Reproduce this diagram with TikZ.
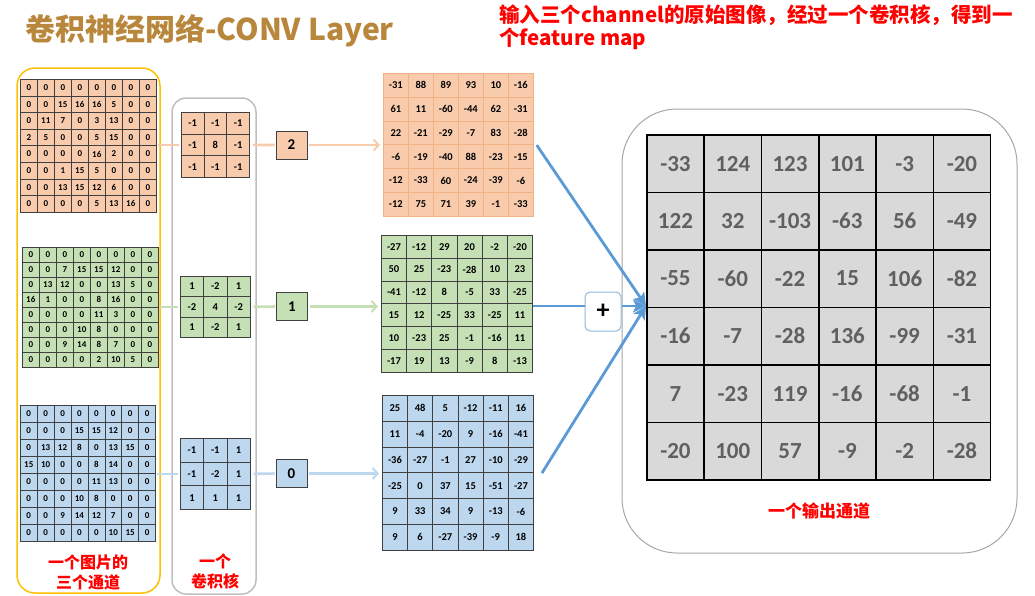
\documentclass[tikz,border=0pt]{standalone}
\usepackage{fontspec}
\setmainfont{Carlito}
\newfontfamily\cjk{Noto Sans CJK SC}
\usetikzlibrary{arrows.meta}
\definecolor{ofill}{HTML}{F8CBAD}
\definecolor{gfill}{HTML}{C5E0B4}
\definecolor{bfill}{HTML}{BDD7EE}
\definecolor{oline}{HTML}{F4B183}
\definecolor{gridline}{HTML}{404040}
\definecolor{arrowblue}{HTML}{5B9BD5}
\definecolor{titlecol}{RGB}{185,135,60}
\definecolor{outtext}{HTML}{606060}
\definecolor{outfill}{HTML}{D9D9D9}
\definecolor{yellowbox}{HTML}{FFC000}
\definecolor{greybox}{HTML}{BFBFBF}
\definecolor{outbox}{HTML}{A6A6A6}
\newcommand\mygrid[7]{%
  \foreach \row [count=\i] in {#7} {
    \foreach \v [count=\j] in \row {
      \node[#6, minimum width=#4, minimum height=#5, anchor=north west]
        (#1-\i-\j) at ({#2+(\j-1)*#4},{#3+(\i-1)*#5}) {\v};
    }
  }
}
\tikzset{
  incell/.style={draw=gridline, fill=#1, line width=0.6pt, inner sep=0pt,
    font=\fontsize{9}{9}\selectfont\bfseries},
  kcell/.style={draw=gridline, fill=#1, line width=0.7pt, inner sep=0pt,
    font=\fontsize{10.5}{11}\selectfont\bfseries},
  fcell/.style 2 args={draw=#2, fill=#1, line width=0.7pt, inner sep=0pt,
    font=\fontsize{10.5}{11}\selectfont\bfseries},
  ocell/.style={draw=black, fill=outfill, line width=1.6pt, inner sep=0pt,
    text=outtext, font=\fontsize{23}{24}\selectfont\bfseries},
  biasbox/.style={draw=gridline, fill=#1, line width=0.9pt, minimum width=31pt,
    minimum height=28pt, inner sep=0pt, font=\fontsize{15}{16}\selectfont\bfseries},
  conn/.style={draw=#1, line width=2.6pt},
  connarr/.style={draw=#1, line width=2.6pt, -{Straight Barb[length=5pt,width=11pt,line width=2pt]}},
  bluearr/.style={draw=arrowblue, line width=2.8pt, -{Stealth[length=13pt,width=13pt,inset=3pt]}},
  blueline/.style={draw=arrowblue, line width=2.8pt},
  lbl/.style={text=red, align=center, inner sep=0pt,
    font=\cjk\bfseries\fontsize{16}{20}\selectfont},
}
\begin{document}
\begin{tikzpicture}[x=1pt,y=-1pt]
\useasboundingbox (0,0) rectangle (1035,595);
% title texts
\node[anchor=west, inner sep=0pt, text=titlecol, font=\cjk\bfseries\fontsize{30}{36}\selectfont] (title) at (25,31) {卷积神经网络-CONV Layer};
\node[anchor=north west, inner sep=0pt, text=red, align=left, font=\cjk\bfseries\fontsize{20.5}{22.5}\selectfont] (note) at (499,5) {输入三个channel的原始图像，经过一个卷积核，得到一\\个feature map};
% outer boxes
\draw[yellowbox, line width=1.5pt, rounded corners=18pt] (17,68) rectangle (160,593);
\draw[greybox, line width=1.5pt, rounded corners=14pt] (172,98) rectangle (256,594);
\draw[outbox, line width=1pt, rounded corners=55pt] (622,109) rectangle (1017,553);
% input grids
\mygrid{io}{20}{79}{17}{16.6}{incell=ofill}{{0,0,0,0,0,0,0,0},{0,0,15,16,16,5,0,0},{0,11,7,0,3,13,0,0},{2,5,0,0,5,15,0,0},{0,0,0,0,16,2,0,0},{0,0,1,15,5,0,0,0},{0,0,13,15,12,6,0,0},{0,0,0,0,5,13,16,0}}
\mygrid{ig}{22}{247}{17}{15}{incell=gfill}{{0,0,0,0,0,0,0,0},{0,0,7,15,15,12,0,0},{0,13,12,0,0,13,5,0},{16,1,0,0,8,16,0,0},{0,0,0,0,11,3,0,0},{0,0,0,10,8,0,0,0},{0,0,9,14,8,7,0,0},{0,0,0,0,2,10,5,0}}
\mygrid{ib}{20}{405}{16.9}{17}{incell=bfill}{{0,0,0,0,0,0,0,0},{0,0,0,15,15,12,0,0},{0,13,12,8,0,13,15,0},{15,10,0,0,8,14,0,0},{0,0,0,0,11,13,0,0},{0,0,0,10,8,0,0,0},{0,0,9,14,12,7,0,0},{0,0,0,0,0,10,15,0}}
% kernels
\mygrid{ko}{181}{112}{22.7}{21.7}{kcell=ofill}{{-1,-1,-1},{-1,8,-1},{-1,-1,-1}}
\mygrid{kg}{180}{276}{23.3}{20.3}{kcell=gfill}{{1,-2,1},{-2,4,-2},{1,-2,1}}
\mygrid{kb}{180}{438}{23.3}{23.7}{kcell=bfill}{{-1,-1,1},{-1,-2,1},{1,1,1}}
% bias boxes
\node[biasbox=ofill] (bo) at (291.5,145) {2};
\node[biasbox=gfill] (bg) at (292,306.5) {1};
\node[biasbox=bfill] (bb) at (291.5,473.5) {0};
% feature maps
\mygrid{fo}{383}{73}{25}{23.8}{fcell={ofill}{oline}}{{-31,88,89,93,10,-16},{61,11,-60,-44,62,-31},{22,-21,-29,-7,83,-28},{-6,-19,-40,88,-23,-15},{-12,-33,60,-24,-39,-6},{-12,75,71,39,-1,-33}}
\mygrid{fg}{381}{235}{25.2}{22.8}{fcell={gfill}{gridline}}{{-27,-12,29,20,-2,-20},{50,25,-23,-28,10,23},{-41,-12,8,-5,33,-25},{15,12,-25,33,-25,11},{10,-23,25,-1,-16,11},{-17,19,13,-9,8,-13}}
\mygrid{fb}{382}{395}{25.2}{25.8}{fcell={bfill}{gridline}}{{25,48,5,-12,-11,16},{11,-4,-20,9,-16,-41},{-36,-27,-1,27,-10,-29},{-25,0,37,15,-51,-27},{9,33,34,9,-13,-6},{9,6,-27,-39,-9,18}}
% output grid
\mygrid{out}{646}{134}{57.3}{57.5}{ocell}{{-33,124,123,101,-3,-20},{122,32,-103,-63,56,-49},{-55,-60,-22,15,106,-82},{-16,-7,-28,136,-99,-31},{7,-23,119,-16,-68,-1},{-20,100,57,-9,-2,-28}}
% connectors input -> kernel -> bias -> feature map
\draw[conn=ofill, shorten <=1pt, shorten >=2pt] (io-1-8.east |- ko-2-1.west) -- (ko-2-1.west);
\draw[conn=gfill, shorten <=1pt, shorten >=2pt] (ig-1-8.east |- kg-2-1.west) -- (kg-2-1.west);
\draw[conn=bfill, shorten <=1pt, shorten >=2pt] (ib-1-8.east |- kb-2-1.west) -- (kb-2-1.west);
\draw[conn=ofill, shorten <=3pt, shorten >=1pt] (ko-2-3.east) -- (bo.west);
\draw[conn=gfill, shorten <=3pt, shorten >=1pt] (kg-2-3.east) -- (bg.west);
\draw[conn=bfill, shorten <=3pt, shorten >=1pt] (kb-2-3.east) -- (bb.west);
\draw[connarr=ofill, shorten <=2pt, shorten >=3pt] (bo.east) -- (bo.east -| fo-1-1.west);
\draw[connarr=gfill, shorten <=2pt, shorten >=3pt] (bg.east) -- (bg.east -| fg-1-1.west);
\draw[connarr=bfill, shorten <=2pt, shorten >=3pt] (bb.east) -- (bb.east -| fb-1-1.west);
% plus and summation arrows
\node[draw=arrowblue!70, fill=white, line width=1pt, rounded corners=5pt, minimum width=36pt, minimum height=39pt, inner sep=0pt, font=\fontsize{26}{26}\selectfont\bfseries] (plus) at (603,311.5) {+};
\coordinate (tip) at (646,306);
\draw[bluearr] ([xshift=3pt]fo-3-6.south east) -- (tip);
\draw[bluearr] ([xshift=8pt]fb-3-6.south east) -- (tip);
\draw[blueline] (fg-3-6.south east |- tip) -- (plus.west |- tip);
\draw[bluearr] (plus.east |- tip) -- (tip);
% labels
\node[lbl] (inlbl) at (88,572) {一个图片的\\三个通道};
\node[lbl] (klbl) at (215,571) {一个\\卷积核};
\node[lbl, font=\cjk\bfseries\fontsize{17}{20}\selectfont] (outlbl) at (819,511) {一个输出通道};
\end{tikzpicture}
\end{document}
